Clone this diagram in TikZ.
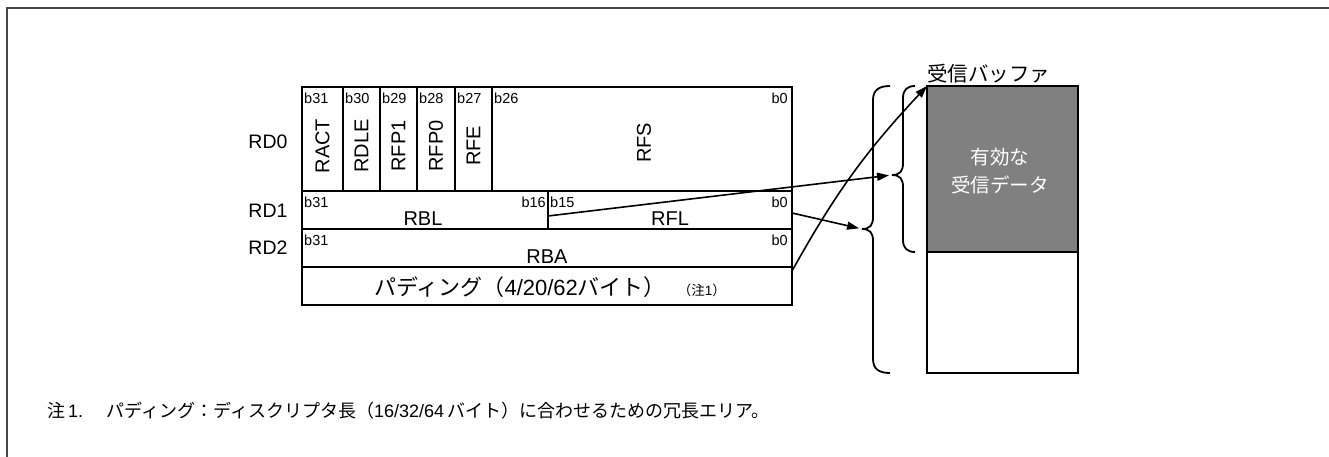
\documentclass[tikz,border=0pt]{standalone}
\usepackage{fontspec}
\setmainfont{Liberation Sans}
\newfontfamily\jp{Noto Sans CJK JP}
\usetikzlibrary{arrows.meta}
\begin{document}
\begin{tikzpicture}[x=1pt,y=-1pt,
  cell/.style={draw,line width=1.7pt,anchor=north west,inner sep=0pt,outer sep=0pt},
  fld/.style={font=\fontsize{20}{22}\selectfont,inner sep=0pt},
  bit/.style={font=\fontsize{14.5}{16}\selectfont,inner sep=0pt},
  rowlbl/.style={font=\fontsize{19.5}{21}\selectfont,inner sep=0pt},
  conn/.style={line width=1.6pt,-{Triangle[length=12pt,width=8pt]}},
  bracepath/.style={line width=1.8pt},
  buf/.style={draw,line width=2pt,anchor=north west,inner sep=0pt,outer sep=0pt,minimum width=151pt}
]
\useasboundingbox (0,0) rectangle (1329,457);
\draw[line width=2pt,color=black!72] (7,457) -- (7,8) -- (1329,8);

% row labels
\node[rowlbl] (l0) at (268,142) {RD0};
\node[rowlbl] (l1) at (268,211) {RD1};
\node[rowlbl] (l2) at (268,248) {RD2};

% RD0 cells
\node[cell,minimum width=41pt,minimum height=104pt] (ract) at (302,87) {};
\node[cell,minimum width=37pt,minimum height=104pt] (rdle) at (343,87) {};
\node[cell,minimum width=37pt,minimum height=104pt] (rfp1) at (380,87) {};
\node[cell,minimum width=38pt,minimum height=104pt] (rfp0) at (417,87) {};
\node[cell,minimum width=37pt,minimum height=104pt] (rfe) at (455,87) {};
\node[cell,minimum width=300pt,minimum height=104pt] (rfs) at (492,87) {};
\node[fld,rotate=90] (tract) at (322.5,146) {RACT};
\node[fld,rotate=90] (trdle) at (361.5,146) {RDLE};
\node[fld,rotate=90] (trfp1) at (398.5,146) {RFP1};
\node[fld,rotate=90] (trfp0) at (436,146) {RFP0};
\node[fld,rotate=90] (trfe) at (473.5,146) {RFE};
\node[fld,rotate=90] (trfs) at (644,143) {RFS};
\node[bit,anchor=west] (b31a) at (304,98) {b31};
\node[bit,anchor=west] (b30) at (345,98) {b30};
\node[bit,anchor=west] (b29) at (382,98) {b29};
\node[bit,anchor=west] (b28) at (419,98) {b28};
\node[bit,anchor=west] (b27) at (457,98) {b27};
\node[bit,anchor=west] (b26) at (494,98) {b26};
\node[bit,anchor=east] (b0a) at (788,98) {b0};

% RD1 cells
\node[cell,minimum width=246pt,minimum height=38pt] (rbl) at (302,191) {};
\node[cell,minimum width=244pt,minimum height=38pt] (rfl) at (548,191) {};
\node[fld] (trbl) at (423,219) {RBL};
\node[fld] (trfl) at (670,219) {RFL};
\node[bit,anchor=west] (b31b) at (304,202) {b31};
\node[bit,anchor=east] (b16) at (546,202) {b16};
\node[bit,anchor=west] (b15) at (550,202) {b15};
\node[bit,anchor=east] (b0b) at (788,202) {b0};

% RD2
\node[cell,minimum width=490pt,minimum height=38pt] (rba) at (302,229) {};
\node[fld] (trba) at (547,257) {RBA};
\node[bit,anchor=west] (b31c) at (304,240) {b31};
\node[bit,anchor=east] (b0c) at (788,240) {b0};

% padding
\node[cell,minimum width=490pt,minimum height=38pt] (pad) at (302,267) {};
\node[font=\fontsize{22}{24}\selectfont,inner sep=0pt] (tpad) at (550,287)
  {{\jp パディング（}4/20/62{\jp バイト）}\hspace{12pt}{\fontsize{13.5}{14}\selectfont{\jp （注}1{\jp ）}}};

% buffer
\node[buf,fill=black!50,minimum height=166pt] (valid) at (927,86) {};
\node[buf,fill=white,minimum height=121pt] (rest) at (927,252) {};
\node[text=white,align=center,font=\jp\fontsize{19.5}{28}\selectfont,inner sep=0pt] (tvalid) at (1000,171) {有効な\\受信データ};
\node[font=\jp\fontsize{20.5}{22}\selectfont,anchor=south west,inner sep=0pt] (tbuf) at (927,83) {受信バッファ};

% braces
\coordinate (tip1) at (862,229);
\coordinate (tip2) at (892,175);
\draw[bracepath] (890,86) .. controls (879,86) and (873,90) .. (873,100) -- (873,217)
  .. controls (873,225) and (870,229) .. (tip1)
  .. controls (870,229) and (873,233) .. (873,241) -- (873,359)
  .. controls (873,369) and (879,373) .. (890,373);
\draw[bracepath] (915,86) .. controls (907,86) and (903,90) .. (903,98) -- (903,163)
  .. controls (903,171) and (900,175) .. (tip2)
  .. controls (900,175) and (903,179) .. (903,187) -- (903,240)
  .. controls (903,248) and (907,252) .. (915,252);

% connectors
\coordinate (s1) at (548,216);
\coordinate (s2) at (792,213);
\coordinate (s3) at (792,271);
\draw[conn,shorten >=3pt] (s1) -- (tip2);
\draw[conn,shorten >=3pt] (s2) -- (tip1);
\draw[conn] (s3) to[bend left=7] (valid.north west);

% note
\node[anchor=west,font=\fontsize{18}{20}\selectfont,inner sep=0pt] (note) at (47,411)
  {{\jp 注}\,1.\hspace{1.3em}{\jp パディング：ディスクリプタ長（}16/32/64\,{\jp バイト）に合わせるための冗長エリア。}};
\end{tikzpicture}
\end{document}
